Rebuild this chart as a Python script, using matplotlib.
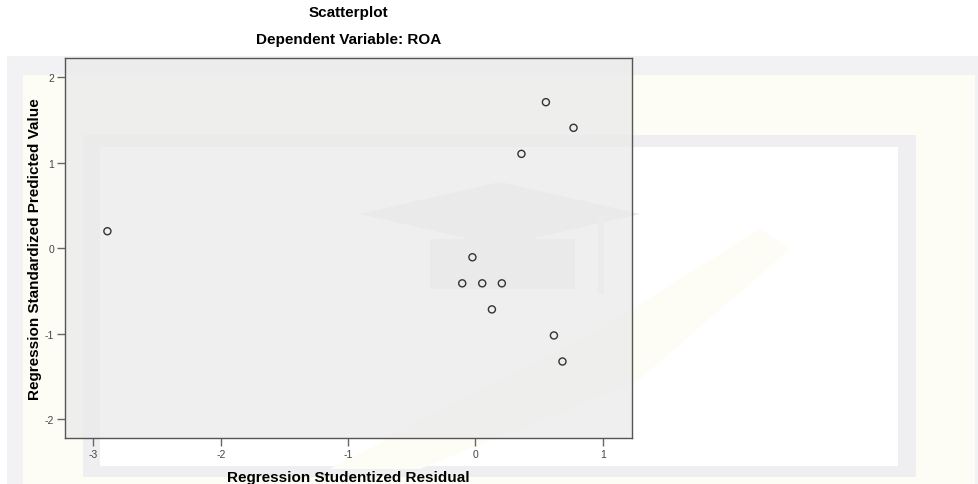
#!/usr/bin/env python3

import matplotlib.pyplot as plt
from matplotlib.patches import Rectangle, Polygon

plt.rcParams["font.family"] = ["Liberation Sans", "DejaVu Sans"]
plt.rcParams["axes.unicode_minus"] = False

# studentized residuals vs standardized predicted values
resid = [0.553, 0.770, 0.361, -2.890, -0.024, -0.104, 0.053, 0.207, 0.129, 0.616, 0.683]
pred = [1.71, 1.41, 1.105, 0.20, -0.105, -0.41, -0.41, -0.41, -0.715, -1.02, -1.325]

x_ticks = [-3, -2, -1, 0, 1]
y_ticks = [-2, -1, 0, 1, 2]

W, H = 979, 485


def px(x0, y0, x1, y1):
    # pixel box -> figure fraction (left, bottom, width, height)
    return (x0 / W, 1 - y1 / H, (x1 - x0) / W, (y1 - y0) / H)


def add_rect(fig, box, color, z=-10):
    l, b, w, h = px(*box)
    fig.patches.append(Rectangle((l, b), w, h, transform=fig.transFigure,
                                 facecolor=color, edgecolor="none", zorder=z))


def add_poly(fig, pts, color, z=-9):
    fig.patches.append(Polygon([(x / W, 1 - y / H) for x, y in pts], closed=True,
                               transform=fig.transFigure, facecolor=color,
                               edgecolor="none", zorder=z))


def backdrop(fig):
    add_rect(fig, (7, 57, 979, 485), "#f2f2f4")
    add_rect(fig, (23, 76, 975, 485), "#fdfdf5")
    add_rect(fig, (83, 136, 916, 478), "#efeff1")
    add_rect(fig, (100, 148, 898, 467), "#ffffff")
    # faint emblem
    add_poly(fig, [(360, 215), (500, 183), (640, 215), (500, 247)], "#e9e9eb")
    add_rect(fig, (430, 240, 575, 290), "#e9e9eb", z=-9)
    add_rect(fig, (598, 215, 604, 295), "#ebebed", z=-9)
    add_poly(fig, [(330, 470), (600, 330), (760, 230), (790, 250), (640, 380),
                   (420, 470)], "#fefdf5")


def main():
    fig = plt.figure(figsize=(9.79, 4.85), dpi=100)
    fig.patch.set_facecolor("white")
    backdrop(fig)

    ax = fig.add_axes(px(65, 59, 632, 439))
    ax.set_facecolor((0.92, 0.92, 0.92, 0.8))
    ax.scatter(resid, pred, s=26, facecolors="none", edgecolors="#333333",
               linewidths=1.0, zorder=3)

    ax.set_xlim(-3.223, 1.229)
    ax.set_ylim(-2.22, 2.227)
    ax.set_xticks(x_ticks)
    ax.set_yticks(y_ticks)
    ax.tick_params(direction="out", length=6, width=1, color="#666666",
                   labelsize=7.5, labelcolor="#444444", pad=2)
    for s in ax.spines.values():
        s.set_color("#555555")
        s.set_linewidth(1.0)

    ax.set_xlabel("Regression Studentized Residual", fontsize=11, fontweight="bold",
                  labelpad=8)
    ax.set_ylabel("Regression Standardized Predicted Value", fontsize=11,
                  fontweight="bold", labelpad=2)

    fig.text(348.5 / W, 1 - 13 / H, "Scatterplot", ha="center", va="center",
             fontsize=11, fontweight="bold")
    fig.text(348.5 / W, 1 - 40 / H, "Dependent Variable: ROA", ha="center",
             va="center", fontsize=11, fontweight="bold")

    fig.savefig("out.png", dpi=100)
    plt.close(fig)


if __name__ == "__main__":
    main()
